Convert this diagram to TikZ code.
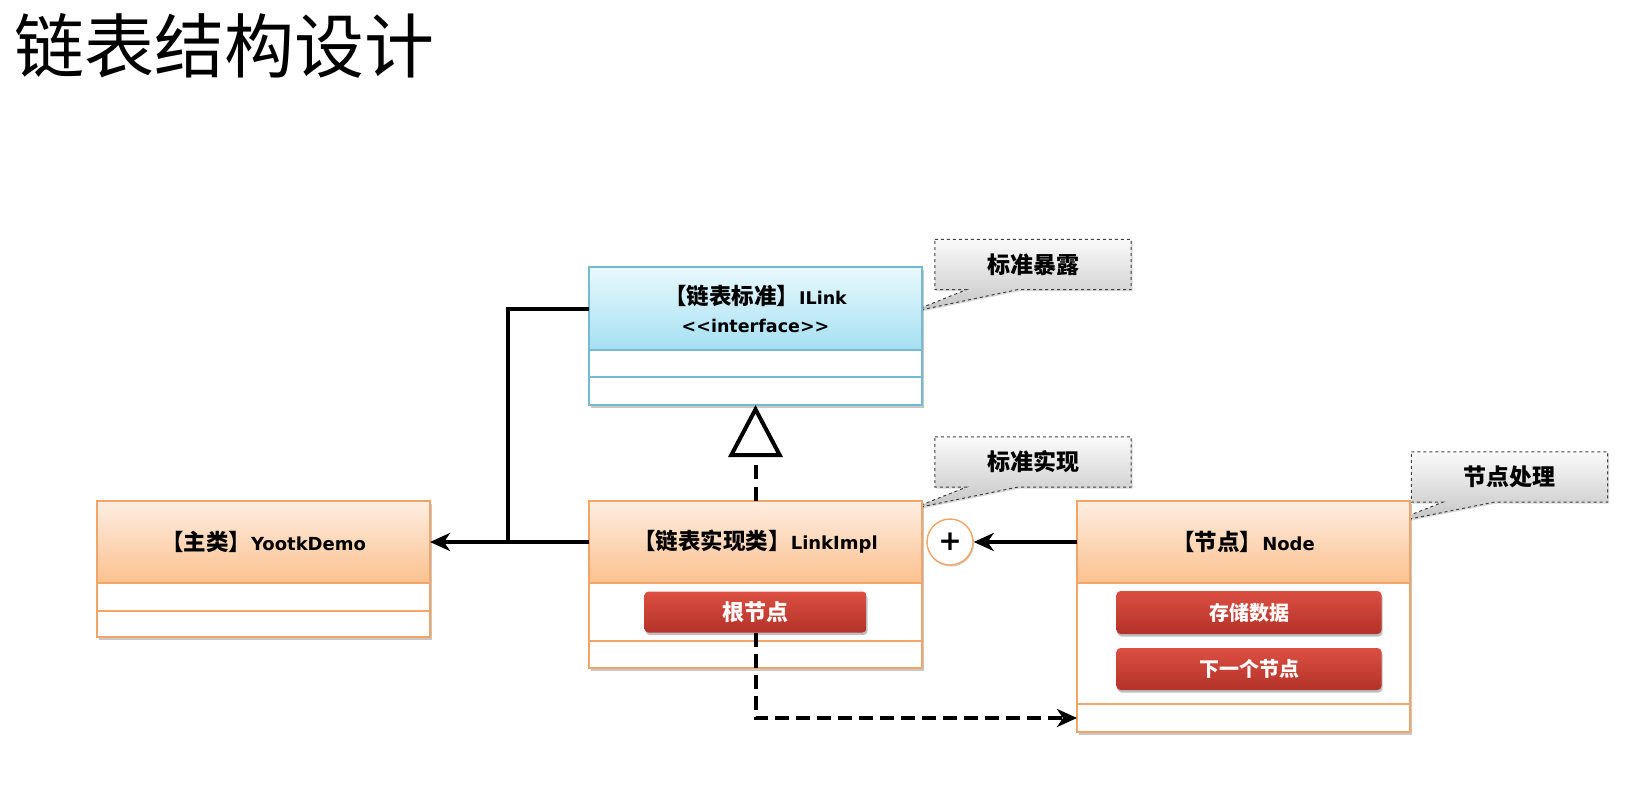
\documentclass[tikz,border=0pt]{standalone}
\usepackage{fontspec}
\setmainfont{DejaVu Sans}[Ligatures=TeXOff]
\newfontfamily\cjk{Noto Sans CJK SC}
\usepackage{tikz}
\usetikzlibrary{arrows.meta,positioning,calc,backgrounds,fit,shadows}
\definecolor{cyantop}{HTML}{E9F8FD}
\definecolor{cyanbot}{HTML}{A5E0F2}
\definecolor{cyanline}{HTML}{74BAD0}
\definecolor{orgtop}{HTML}{FEEEE2}
\definecolor{orgbot}{HTML}{FBC18F}
\definecolor{orgline}{HTML}{F2A566}
\definecolor{btntop}{HTML}{DC4F42}
\definecolor{btnbot}{HTML}{B3322A}
\definecolor{tagtop}{HTML}{FAFAFA}
\definecolor{tagbot}{HTML}{C4C4C4}
\newcommand{\zh}[1]{{\cjk\fontsize{22.5}{28}\selectfont #1}}
\tikzset{
  ihead/.style  ={draw=cyanline,line width=1.2pt,top color=cyantop,bottom color=cyanbot,minimum width=333pt,minimum height=83pt,inner sep=0pt,outer sep=0pt,align=center,font=\bfseries\fontsize{17.5}{28}\selectfont},
  ohead/.style  ={draw=orgline,line width=1.2pt,top color=orgtop,bottom color=orgbot,minimum width=333pt,minimum height=82pt,inner sep=0pt,outer sep=0pt,font=\bfseries\fontsize{18}{28}\selectfont},
  icell/.style  ={draw=cyanline,line width=1.2pt,fill=white,minimum width=333pt,inner sep=0pt,outer sep=0pt},
  ocell/.style  ={draw=orgline,line width=1.2pt,fill=white,minimum width=333pt,inner sep=0pt,outer sep=0pt},
  btn/.style    ={rounded corners=4pt,top color=btntop,bottom color=btnbot,text=white,inner sep=0pt,font=\cjk\bfseries\fontsize{20}{24}\selectfont,
                  drop shadow={shadow xshift=1pt,shadow yshift=-2.5pt,fill=black,opacity=0.25}},
  tagtext/.style={minimum width=196pt,minimum height=50pt,inner sep=0pt,font=\cjk\bfseries\fontsize{23}{26}\selectfont},
  tagline/.style={draw=black!75,line width=1pt,dashed,top color=tagtop,bottom color=tagbot,
                  drop shadow={shadow xshift=1.5pt,shadow yshift=-1.5pt,fill=black,opacity=0.15}},
  plusnode/.style={circle,draw=orgline,line width=1.4pt,fill=white,minimum size=46pt,inner sep=0pt,font=\bfseries\fontsize{28}{28}\selectfont,
                  drop shadow={shadow xshift=1pt,shadow yshift=-1.5pt,fill=black,opacity=0.2}},
  boxshadow/.style={inner sep=0pt,fill=white,drop shadow={shadow xshift=1.5pt,shadow yshift=-2.5pt,fill=black,opacity=0.22}},
  assocedge/.style={line width=4pt,-{Stealth[length=20pt,width=18pt,inset=6pt]}},
  joinedge/.style ={line width=4pt,line join=miter},
  realedge/.style ={line width=4pt,dash pattern=on 14pt off 8pt,-{Triangle[open,length=52pt,width=54pt]}},
  depedge/.style  ={line width=4pt,dash pattern=on 14pt off 7pt,-{Stealth[length=20pt,width=18pt,inset=6pt]}},
}
\begin{document}
\begin{tikzpicture}[x=1pt,y=-1pt]
  \useasboundingbox (0,0) rectangle (1636,798);
  \node[anchor=base west,inner sep=0pt,font=\cjk\fontsize{70}{70}\selectfont] (title) at (14,72) {链表结构设计};

  % interface
  \node[ihead] (ilinkH) at (755.5,308.5) {\zh{【链表标准】}ILink\\<<interface>>};
  \node[icell,minimum height=27pt,below=0pt of ilinkH] (ilinkA) {};
  \node[icell,minimum height=28pt,below=0pt of ilinkA] (ilinkB) {};

  % classes
  \node[ohead] (demoH) at (263.5,542) {\zh{【主类】}YootkDemo};
  \node[ocell,minimum height=28pt,below=0pt of demoH] (demoA) {};
  \node[ocell,minimum height=26pt,below=0pt of demoA] (demoB) {};

  \node[ohead] (limplH) at (755.5,542) {\zh{【链表实现类】}LinkImpl};
  \node[ocell,minimum height=58pt,below=0pt of limplH] (limplA) {};
  \node[ocell,minimum height=27pt,below=0pt of limplA] (limplB) {};
  \node[btn,minimum width=222pt,minimum height=41pt,font=\cjk\bfseries\fontsize{22}{24}\selectfont] (root) at (limplA) {根节点};

  \node[ohead] (nodeH) at (1243.5,542) {\zh{【节点】}Node};
  \node[ocell,minimum height=121pt,below=0pt of nodeH] (nodeA) {};
  \node[ocell,minimum height=28pt,below=0pt of nodeA] (nodeB) {};
  \node[btn,minimum width=265pt,minimum height=43pt] (data) at (1249,612.5) {存储数据};
  \node[btn,minimum width=265pt,minimum height=42pt] (next) at (1249,669) {下一个节点};

  \node[plusnode] (plus) at (950,542) {+};

  \begin{scope}[on background layer]
    \node[boxshadow,fit=(ilinkH)(ilinkB)] (ilinkS) {};
    \node[boxshadow,fit=(demoH)(demoB)] (demoS) {};
    \node[boxshadow,fit=(limplH)(limplB)] (limplS) {};
    \node[boxshadow,fit=(nodeH)(nodeB)] (nodeS) {};
  \end{scope}

  % notes
  \node[tagtext] (tag1) at (1033,264.5) {标准暴露};
  \node[tagtext] (tag2) at (1033,462) {标准实现};
  \node[tagtext] (tag3) at (1509.5,477) {节点处理};
  \coordinate (tip1) at (911,312);
  \coordinate (tip2) at (911,509);
  \coordinate (tip3) at (1390,523);
  \begin{scope}[on background layer]
    \foreach \t in {1,2,3}
      \draw[tagline] (tag\t.north west) -- (tag\t.north east) -- (tag\t.south east)
        -- ($(tag\t.south west)!0.42!(tag\t.south east)$) -- (tip\t)
        -- ($(tag\t.south west)!0.16!(tag\t.south east)$) -- (tag\t.south west) -- cycle;
  \end{scope}

  % relations
  \coordinate (bend) at (508,542);
  \draw[joinedge] (ilinkH.west) -| (bend);
  \draw[assocedge] (limplH.west) -- (demoH.east);
  \draw[assocedge] (nodeH.west) -- (plus.east);
  \draw[realedge] (limplH.north) -- (ilinkB.south);
  \draw[depedge] (root.south) |- (nodeB.west);
\end{tikzpicture}
\end{document}
